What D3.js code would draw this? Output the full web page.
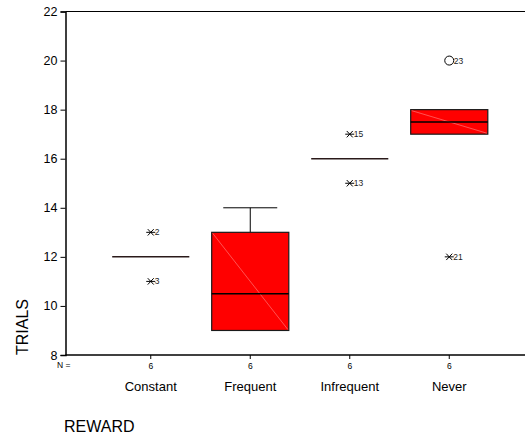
<!DOCTYPE html>
<html>
<head>
<meta charset="utf-8">
<script src="https://cdn.jsdelivr.net/npm/d3@7/dist/d3.min.js"></script>
<style>
  html, body { margin: 0; padding: 0; background: #fff; }
  svg { display: block; font-family: Arial, "Liberation Sans", sans-serif; }
</style>
</head>
<body>
<svg id="chart" width="525" height="435"></svg>
<script>
// Trials to criterion by reward schedule (boxplot summary)
const categories  = ["Constant", "Frequent", "Infrequent", "Never"];
const counts      = [6, 6, 6, 6];
const whiskerLow  = [12, 9, 16, 17];
const q1          = [12, 9, 16, 17];
const median      = [12, 10.5, 16, 17.5];
const q3          = [12, 13, 16, 18];
const whiskerHigh = [12, 14, 16, 18];

// Cases flagged beyond the whiskers: kind "extreme" = asterisk, "outlier" = circle
const flagCategory = ["Constant", "Constant", "Infrequent", "Infrequent", "Never", "Never"];
const flagValue    = [13, 11, 17, 15, 20, 12];
const flagCase     = ["2", "3", "15", "13", "23", "21"];
const flagKind     = ["extreme", "extreme", "extreme", "extreme", "outlier", "extreme"];

const yTicks = [8, 10, 12, 14, 16, 18, 20, 22];

const svg = d3.select("#chart");
const plotLeft = 65.5, plotRight = 525, plotTop = 11.5, plotBottom = 355;

const y = d3.scaleLinear().domain([8, 22]).range([plotBottom, plotTop]);
const x = d3.scaleBand().domain(categories).range([101, 499]).padding(0);
const cx = c => x(c) + x.bandwidth() / 2;
const boxW = x.step() * 0.775;
const capW = boxW * 0.7;

// frame: top border and bottom axis line run to the right edge
svg.append("line").attr("x1", plotLeft).attr("x2", plotRight).attr("y1", plotTop).attr("y2", plotTop)
  .attr("stroke", "#000").attr("stroke-width", 1.2);
svg.append("line").attr("x1", plotLeft).attr("x2", plotRight).attr("y1", plotBottom).attr("y2", plotBottom)
  .attr("stroke", "#000").attr("stroke-width", 1.5);

// y axis
const yAxis = svg.append("g").attr("transform", `translate(${plotLeft},0)`)
  .call(d3.axisLeft(y).tickValues(yTicks).tickSize(5).tickPadding(3).tickFormat(d3.format("d")));
yAxis.select(".domain").attr("stroke-width", 1.5);
yAxis.selectAll("text").attr("font-size", 12.5).attr("fill", "#000").attr("font-family", "Arial, 'Liberation Sans', sans-serif");

// x ticks at group centres
svg.append("g").selectAll("line").data(categories).join("line")
  .attr("x1", cx).attr("x2", cx).attr("y1", plotBottom).attr("y2", plotBottom + 4)
  .attr("stroke", "#000");

// N = row
svg.append("text").attr("x", 57).attr("y", 368).attr("font-size", 8.5).text("N =");
svg.append("g").selectAll("text").data(categories).join("text")
  .attr("x", cx).attr("y", 368.5).attr("text-anchor", "middle").attr("font-size", 8.5)
  .text((c, i) => counts[i]);

// category labels
svg.append("g").selectAll("text").data(categories).join("text")
  .attr("x", cx).attr("y", 391).attr("text-anchor", "middle").attr("font-size", 13)
  .text(d => d);

// axis titles
svg.append("text").attr("x", 64).attr("y", 432).attr("font-size", 16).text("REWARD");
svg.append("text").attr("transform", `translate(28,${plotBottom}) rotate(-90)`)
  .attr("font-size", 16).text("TRIALS");

// boxes
const groups = svg.append("g").selectAll("g").data(categories).join("g");

groups.each(function (c, i) {
  const g = d3.select(this);
  const xc = cx(c);
  const x0 = xc - boxW / 2, x1 = xc + boxW / 2;
  // whiskers
  if (whiskerHigh[i] > q3[i]) {
    g.append("line").attr("x1", xc).attr("x2", xc).attr("y1", y(q3[i])).attr("y2", y(whiskerHigh[i])).attr("stroke", "#000");
    g.append("line").attr("x1", xc - capW / 2).attr("x2", xc + capW / 2).attr("y1", y(whiskerHigh[i])).attr("y2", y(whiskerHigh[i])).attr("stroke", "#000");
  }
  if (whiskerLow[i] < q1[i]) {
    g.append("line").attr("x1", xc).attr("x2", xc).attr("y1", y(q1[i])).attr("y2", y(whiskerLow[i])).attr("stroke", "#000");
    g.append("line").attr("x1", xc - capW / 2).attr("x2", xc + capW / 2).attr("y1", y(whiskerLow[i])).attr("y2", y(whiskerLow[i])).attr("stroke", "#000");
  }
  if (q3[i] > q1[i]) {
    g.append("rect").attr("x", x0).attr("y", y(q3[i])).attr("width", boxW).attr("height", y(q1[i]) - y(q3[i]))
      .attr("fill", "#ff0000").attr("stroke", "#1a1a1a").attr("stroke-width", 1.2);
    g.append("line").attr("x1", x0 + 1).attr("y1", y(q3[i]) + 1).attr("x2", x1 - 1).attr("y2", y(q1[i]) - 1)
      .attr("stroke", "#ff8a8a").attr("stroke-width", 0.6);
  }
  g.append("line").attr("x1", x0).attr("x2", x1).attr("y1", y(median[i])).attr("y2", y(median[i]))
    .attr("stroke", q3[i] > q1[i] ? "#000" : "#2a1a1a").attr("stroke-width", 1.5);
});

// flagged cases
const flags = flagValue.map((v, i) => ({ c: flagCategory[i], v, id: flagCase[i], kind: flagKind[i] }));
const fg = svg.append("g").selectAll("g").data(flags).join("g")
  .attr("transform", d => `translate(${cx(d.c)},${y(d.v)})`);
fg.filter(d => d.kind === "extreme").append("path")
  .attr("d", "M-4.5,0H4.5M-3,-3.2L3,3.2M-3,3.2L3,-3.2")
  .attr("stroke", "#000").attr("stroke-width", 1).attr("fill", "none");
fg.filter(d => d.kind === "outlier").append("circle")
  .attr("r", 4.5).attr("fill", "none").attr("stroke", "#000").attr("stroke-width", 1);
fg.append("text").attr("x", d => d.kind === "outlier" ? 4.5 : 4).attr("y", 3)
  .attr("font-size", 8.5).attr("fill", "#222").text(d => d.id);
</script>
</body>
</html>
